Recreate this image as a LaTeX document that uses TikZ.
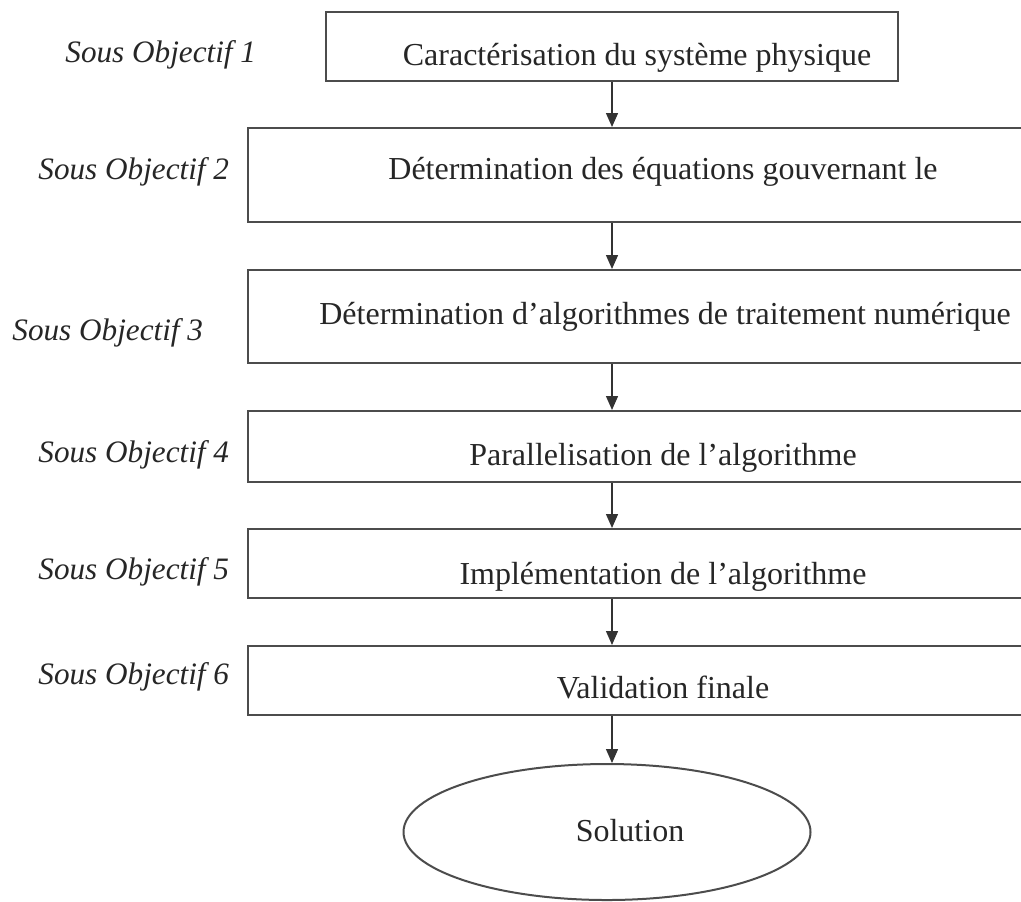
\documentclass[tikz,border=0pt]{standalone}
\usepackage{fontspec}
\setmainfont{Liberation Serif}
\usetikzlibrary{positioning,arrows.meta,shapes.geometric}

\begin{document}
\begin{tikzpicture}[x=0.5pt, y=-0.5pt,
  stepbox/.style={draw=black!70, line width=1pt, rectangle, inner sep=0pt},
  steptxt/.style={inner sep=0pt, font=\fontsize{16}{19}\selectfont, text=black!85},
  objlbl/.style={anchor=west, inner sep=0pt, font=\fontsize{15.6}{19}\selectfont\itshape, text=black!85},
  arr/.style={-{Triangle[length=7pt,width=6pt]}, line width=0.7pt, black!80}
]
\useasboundingbox (0,0) rectangle (1021,901);

% steps
\node[stepbox, minimum width=286pt, minimum height=34.5pt] (b1) at (612,46.5) {};
\node[stepbox, minimum width=415pt, minimum height=47pt]   (b2) at (663,175) {};
\node[stepbox, minimum width=415pt, minimum height=46.5pt] (b3) at (663,316.5) {};
\node[stepbox, minimum width=415pt, minimum height=35.5pt] (b4) at (663,446.5) {};
\node[stepbox, minimum width=415pt, minimum height=34.5pt] (b5) at (663,563.5) {};
\node[stepbox, minimum width=415pt, minimum height=34.5pt] (b6) at (663,680.5) {};
\node[draw=black!70, line width=1pt, ellipse, minimum width=203.5pt, minimum height=68pt, inner sep=0pt] (sol) at (607,832) {};

\node[steptxt] (t1) at (637,58)  {Caractérisation du système physique};
\node[steptxt] (t2) at (663,172) {Détermination des équations gouvernant le};
\node[steptxt] (t3) at (665,317) {Détermination d’algorithmes de traitement numérique};
\node[steptxt] (t4) at (663,458) {Parallelisation de l’algorithme};
\node[steptxt] (t5) at (663,577) {Implémentation de l’algorithme};
\node[steptxt] (t6) at (663,687) {Validation finale};
\node[steptxt] (t7) at (630,831) {Solution};

% sub-goals
\node[objlbl] (o1) at (65,55)  {Sous Objectif 1};
\node[objlbl] (o2) at (38,172) {Sous Objectif 2};
\node[objlbl] (o3) at (12,333) {Sous Objectif 3};
\node[objlbl] (o4) at (38,455) {Sous Objectif 4};
\node[objlbl] (o5) at (38,572) {Sous Objectif 5};
\node[objlbl] (o6) at (38,677) {Sous Objectif 6};

\draw[arr] (b1.south) -- (b2.north -| b1.south);
\foreach \i/\j in {2/3,3/4,4/5,5/6}
  \draw[arr] (b\i.south -| b1.south) -- (b\j.north -| b1.south);
\draw[arr] (b6.south -| b1.south) -- (sol.north -| b1.south);
\end{tikzpicture}
\end{document}
